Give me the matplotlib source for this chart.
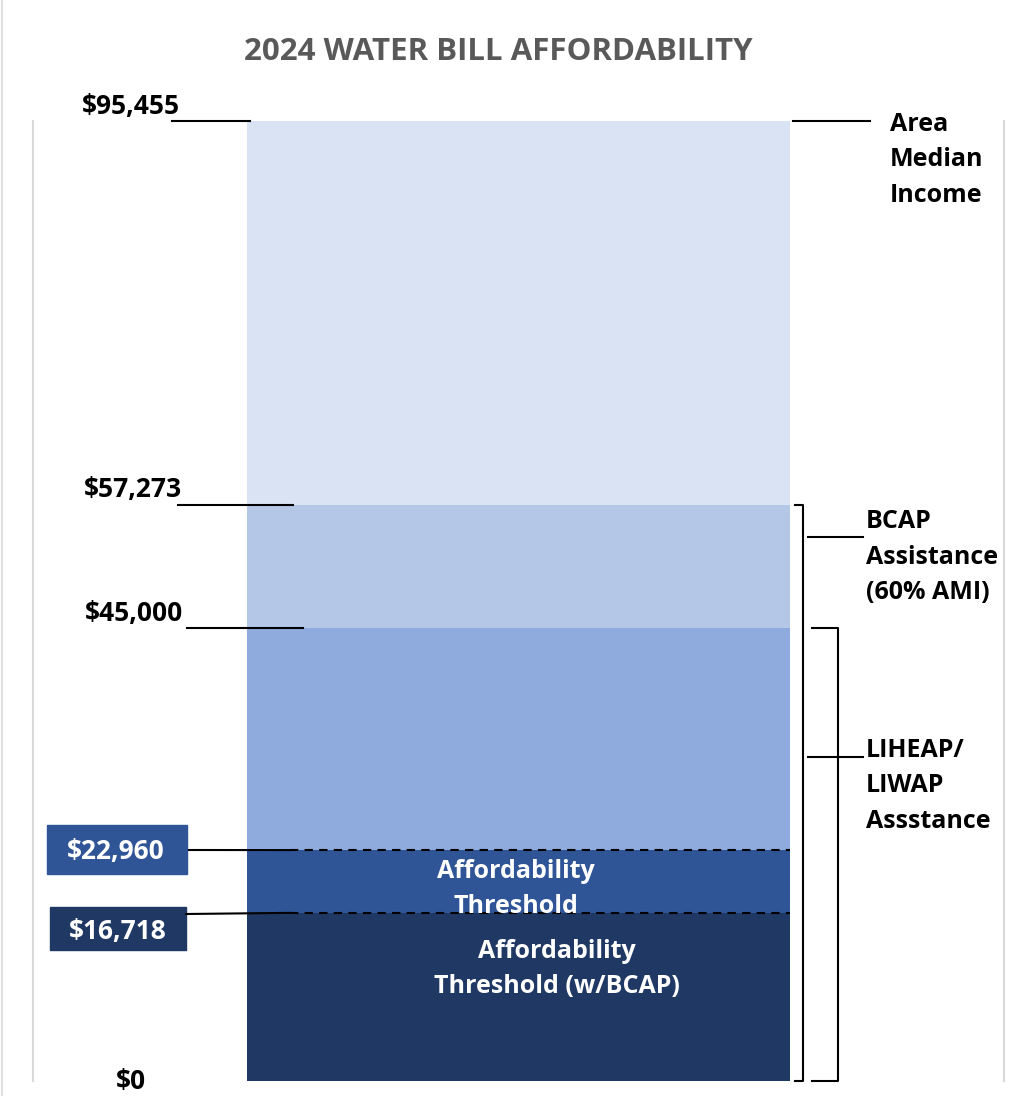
import matplotlib
matplotlib.use("Agg")
import matplotlib.pyplot as plt
from matplotlib.patches import Rectangle

# ---- data ----
title = "2024 WATER BILL AFFORDABILITY"
levels = [0, 16718, 22960, 45000, 57273, 95455]
level_labels = ["$0", "$16,718", "$22,960", "$45,000", "$57,273", "$95,455"]
segment_colors = ["#203864", "#2F5597", "#8FAADC", "#B4C7E7", "#DAE3F3"]
segment_texts = ["Affordability\nThreshold (w/BCAP)", "Affordability\nThreshold", "", "", ""]
right_labels = ["Area\nMedian\nIncome", "BCAP\nAssistance\n(60% AMI)", "LIHEAP/\nLIWAP\nAssstance"]

plt.rcParams['font.family'] = ['Open Sans', 'DejaVu Sans']
W, H = 1029, 1096
fig = plt.figure(figsize=(W / 100, H / 100), dpi=100)
y0px, ytop = 1081, 121
top = levels[-1]
ax = fig.add_axes([0, (H - y0px) / H, 1, (y0px - ytop) / H])
ax.set_xlim(0, W)
ax.set_ylim(0, top)
ax.axis("off")

def v(px):
    """pixel row -> value (layout helper for text placement)"""
    return (y0px - px) / (y0px - ytop) * top

FL = 19   # left value labels
FS = 18   # other labels

# frame lines
ax.plot([33, 33], [0, top], color="#D9D9D9", lw=1.5, clip_on=False)
ax.plot([1004, 1004], [0, top], color="#D9D9D9", lw=1.5, clip_on=False)
ax.plot([2, 2], [v(1096), v(0)], color="#E0E0E0", lw=1.5, clip_on=False)

# stacked bar
bx0, bx1 = 247, 790
for i, c in enumerate(segment_colors):
    ax.bar((bx0 + bx1) / 2, levels[i + 1] - levels[i], bottom=levels[i],
           width=bx1 - bx0, color=c, edgecolor="none")

# title
fig.text(498 / W, 1 - 52 / H, title, ha="center", va="center", fontsize=22.5,
         fontweight="bold", color="#595959")

lab_kw = dict(fontsize=FL, fontweight="bold", color="black", va="center", ha="center")
# $95,455
ax.text(131, v(107), level_labels[5], **lab_kw, clip_on=False)
ax.plot([172, 250], [levels[5], levels[5]], color="black", lw=1.5, clip_on=False)
# $57,273
ax.text(133, v(490), level_labels[4], **lab_kw)
ax.plot([178, 293], [levels[4], levels[4]], color="black", lw=1.5)
# $45,000
ax.text(134, v(614), level_labels[3], **lab_kw)
ax.plot([187, 303], [levels[3], levels[3]], color="black", lw=1.5)
# $22,960 box
ax.add_patch(Rectangle((47, v(874)), 140, v(825) - v(874), color=segment_colors[1]))
ax.text(116, v(851), level_labels[2], fontsize=FL, fontweight="bold", color="white",
        ha="center", va="center")
ax.plot([189, 290], [v(850), levels[2]], color="black", lw=1.5)
ax.plot([290, bx1], [levels[2], levels[2]], color="black", lw=1.5, ls=(0, (4, 3)))
# $16,718 box
ax.add_patch(Rectangle((50, v(950)), 136, v(907) - v(950), color=segment_colors[0]))
ax.text(118, v(931), level_labels[1], fontsize=FL, fontweight="bold", color="white",
        ha="center", va="center")
ax.plot([186, 290], [v(914), levels[1]], color="black", lw=1.5)
ax.plot([290, bx1], [levels[1], levels[1]], color="black", lw=1.5, ls=(0, (4, 3)))
# $0
ax.text(131, v(1081), level_labels[0], **lab_kw, clip_on=False)

# text inside bar
ax.text(516, v(889), segment_texts[1], fontsize=FS, fontweight="bold", color="white",
        ha="center", va="center", linespacing=1.52)
ax.text(557, v(969), segment_texts[0], fontsize=FS, fontweight="bold", color="white",
        ha="center", va="center", linespacing=1.52)

# right side
rkw = dict(fontsize=FS, fontweight="bold", color="black", ha="left", va="center",
           linespacing=1.55)
ax.plot([793, 870], [levels[5], levels[5]], color="black", lw=1.5, clip_on=False)
ax.text(890, v(160), right_labels[0], **rkw)

# bracket 1 (BCAP): 57,273 -> 0
bx = 803
ax.plot([795, bx, bx, 795], [levels[4], levels[4], levels[0], levels[0]],
        color="black", lw=1.5, clip_on=False, solid_joinstyle="round")
ax.plot([808, 863], [v(537), v(537)], color="black", lw=1.5)
ax.text(866, v(557), right_labels[1], **rkw)

# bracket 2 (LIHEAP): 45,000 -> 0
bx2 = 838
ax.plot([812, bx2, bx2, 812], [levels[3], levels[3], levels[0], levels[0]],
        color="black", lw=1.5, clip_on=False, solid_joinstyle="round")
ax.plot([808, 863], [v(757), v(757)], color="black", lw=1.5)
ax.text(866, v(786), right_labels[2], **rkw)

fig.savefig("out.png", dpi=100)
